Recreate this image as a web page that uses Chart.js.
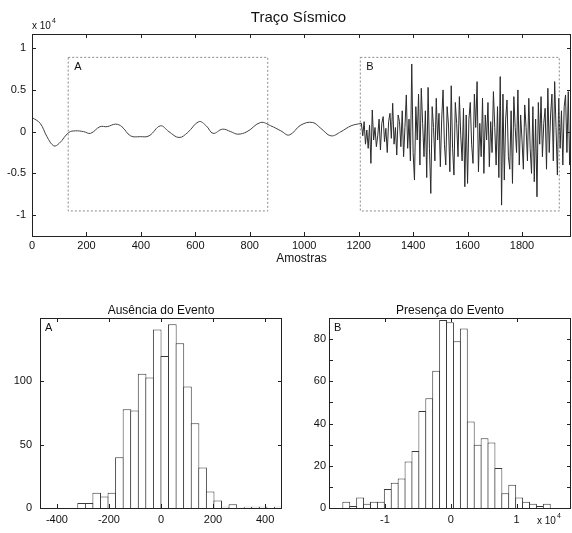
<!DOCTYPE html>
<html>
<head>
<meta charset="utf-8">
<script src="https://cdn.jsdelivr.net/npm/chart.js@4.4.1/dist/chart.umd.min.js"></script>
<style>
  html, body { margin: 0; padding: 0; background: #fff; }
  body { width: 572px; height: 533px; position: relative; overflow: hidden; }
  canvas { position: absolute; }
</style>
</head>
<body>
<canvas id="trace" width="572" height="270" style="left:0;top:0"></canvas>
<canvas id="histA" width="290" height="253" style="left:0;top:280px"></canvas>
<canvas id="histB" width="282" height="253" style="left:290px;top:280px"></canvas>
<script>
// ---- seismic trace (values in units of 1e4) ----
// quiet part
const quietX = [0, 30, 55, 80, 100, 135, 160, 190, 215, 250, 276, 307, 330, 362, 398, 430, 472, 503,
  540, 572, 613, 640, 665, 700, 730, 756, 790, 840, 877, 914, 945, 988, 1031, 1061, 1098, 1135, 1172, 1210];
const quietY = [0.17, 0.10, -0.06, -0.17, -0.14, -0.01, 0.01, 0.00, -0.02, 0.06, 0.06, 0.09, 0.06, -0.05, -0.06, -0.05, 0.07, 0.00,
  -0.07, -0.01, 0.12, 0.07, -0.02, 0.03, 0.00, -0.03, 0.00, 0.11, 0.07, 0.01, -0.04, 0.08, 0.11, 0.04, -0.05, 0.00, 0.07, 0.10];

// event part, one value every 5 samples from 1210
const eventStart = 1210;
const eventStep = 5;
const eventY = [
  0.10, -0.05, 0.12, -0.15, 0.02, -0.20, 0.08, -0.38, 0.26, -0.10,
  0.05, -0.18, -0.05, 0.15, -0.22, 0.10, 0.18, -0.12, 0.04, -0.25,
  0.12, 0.22, -0.08, 0.34, -0.15, 0.05, -0.28, 0.20, 0.12, -0.18,
  0.25, -0.30, 0.05, 0.44, -0.20, 0.15, -0.35, 0.81, -0.25, -0.58,
  0.30, -0.10, 0.45, -0.40, 0.52, 0.10, -0.30, 0.25, -0.55, 0.53,
  -0.20, -0.74, 0.30, 0.05, -0.35, 0.40, -0.10, 0.22, -0.42, 0.15,
  0.50, -0.15, -0.40, 0.30, 0.08, -0.48, 0.55, -0.20, -0.52, 0.35,
  0.10, -0.30, 0.42, -0.05, -0.35, 0.28, -0.66, 0.20, -0.62, 0.15,
  0.35, -0.15, -0.38, 0.45, 0.05, 0.60, -0.48, 0.10, -0.30, 0.40,
  -0.50, 0.20, -0.10, 0.35, -0.42, 0.12, -0.25, 0.48, 0.05, -0.40,
  0.30, -0.55, 0.66, -0.88, 0.45, -0.58, 0.15, 0.38, -0.30, -0.45,
  0.25, -0.62, 0.42, 0.05, -0.25, 0.50, -0.40, 0.20, -0.10, -0.45,
  0.32, 0.05, -0.35, 0.40, -0.20, -0.50, 0.30, -0.60, 0.15, -0.78,
  0.35, -0.15, 0.42, -0.30, 0.10, 0.28, -0.45, 0.52, -0.25, 0.20,
  0.45, -0.35, 0.60, 0.05, -0.52, 0.40, -0.20, 0.25, -0.40, 0.30,
  0.44, -0.25, 0.48, -0.40, 0.20
];

// windows A and B: [x0, x1, y0, y1]
const windowA = [133, 866, -0.95, 0.89];
const windowB = [1206, 1937, -0.95, 0.89];

const traceXTicks = [0, 200, 400, 600, 800, 1000, 1200, 1400, 1600, 1800];
const traceYTicks = [-1, -0.5, 0, 0.5, 1];

// ---- histogram A (no event) ----
const histAMin = -465, histAMax = 465;
const histACounts = [0, 0, 0, 0, 0, 4, 4, 12, 9, 12, 40, 78, 77, 106, 103, 141, 120, 145, 130, 96, 67, 32,
  13, 6, 1, 3, 0, 1, 1, 1, 0, 1];
const histAXTicks = [-400, -200, 0, 200, 400];
const histAYTicks = [0, 50, 100];

// ---- histogram B (event), x in units of 1e4 ----
const histBMin = -1.85, histBMax = 1.825;
const histBCounts = [0, 0, 3, 1, 5, 2, 3, 3, 9, 12, 14, 22, 27, 46, 52, 65, 89, 88, 79, 85, 41, 30, 33, 31,
  19, 7, 11, 5, 3, 2, 1, 2, 0, 0, 0];
const histBXTicks = [-1, 0, 1];
const histBYTicks = [0, 10, 20, 30, 40, 50, 60, 70, 80];

Chart.defaults.font.family = '"Liberation Sans", Arial, Helvetica, sans-serif';
Chart.defaults.color = '#111';
Chart.defaults.animation = false;

const FONT = '"Liberation Sans", Arial, Helvetica, sans-serif';

// box around plot area + inward tick marks on all four sides
const framePlugin = {
  id: 'frame',
  afterDatasetsDraw(chart, args, opts) {
    const { ctx, chartArea: a } = chart;
    const len = opts.len || 4;
    ctx.save();
    ctx.strokeStyle = '#222';
    ctx.lineWidth = 1;
    ctx.beginPath();
    chart.scales.x.ticks.forEach(t => {
      const px = Math.round(chart.scales.x.getPixelForValue(t.value)) + 0.5;
      ctx.moveTo(px, a.bottom); ctx.lineTo(px, a.bottom - len);
      ctx.moveTo(px, a.top); ctx.lineTo(px, a.top + len);
    });
    chart.scales.y.ticks.forEach(t => {
      const py = Math.round(chart.scales.y.getPixelForValue(t.value)) + 0.5;
      ctx.moveTo(a.left, py); ctx.lineTo(a.left + len, py);
      ctx.moveTo(a.right, py); ctx.lineTo(a.right - len, py);
    });
    ctx.stroke();
    ctx.strokeRect(Math.round(a.left) + 0.5, Math.round(a.top) + 0.5,
      Math.round(a.right - a.left) - 1, Math.round(a.bottom - a.top));
    ctx.restore();
  }
};

// free text: titles, axis label, exponent, window letters
const textPlugin = {
  id: 'texts',
  afterDraw(chart, args, opts) {
    const ctx = chart.ctx;
    const a = chart.chartArea;
    ctx.save();
    ctx.fillStyle = '#111';
    ctx.textBaseline = 'middle';
    (opts.items || []).forEach(it => {
      const p = typeof it.pos === 'function' ? it.pos(chart, a) : it.pos;
      ctx.font = (it.size || 11) + 'px ' + FONT;
      ctx.textAlign = it.align || 'left';
      ctx.fillText(it.text, p[0], p[1]);
      if (it.sup) {
        const w = ctx.measureText(it.text).width;
        ctx.font = Math.round((it.size || 11) * 0.7) + 'px ' + FONT;
        ctx.textAlign = 'left';
        const x0 = it.align === 'center' ? p[0] + w / 2 : (it.align === 'right' ? p[0] : p[0] + w);
        ctx.fillText(it.sup, x0 + 1, p[1] - 5);
      }
    });
    ctx.restore();
  }
};

function axis(ticksArr, min, max, size, pad, labelFilter) {
  return {
    type: 'linear',
    min: min, max: max,
    offset: false,
    grid: { display: false, drawTicks: false, tickLength: 0, offset: false },
    border: { display: false },
    afterBuildTicks: s => { s.ticks = ticksArr.map(v => ({ value: v })); },
    afterFit: s => {
      if (s.isHorizontal()) s.height = size; else s.width = size;
    },
    ticks: {
      padding: pad,
      autoSkip: false,
      maxRotation: 0,
      font: { size: 11 },
      color: '#111',
      callback: v => (labelFilter && !labelFilter(v)) ? '' : String(v)
    }
  };
}

function windowPath(w) {
  return [{ x: w[0], y: w[3] }, { x: w[1], y: w[3] }, { x: w[1], y: w[2] }, { x: w[0], y: w[2] }, { x: w[0], y: w[3] }];
}

// ---- top: trace ----
const quietData = quietX.map((x, i) => ({ x: x, y: quietY[i] }));
const eventData = eventY.map((y, i) => ({ x: eventStart + i * eventStep, y: y }));

new Chart(document.getElementById('trace'), {
  type: 'line',
  data: {
    datasets: [
      { data: windowPath(windowA), borderColor: '#8a8a8a', borderWidth: 1, borderDash: [2, 2], pointRadius: 0, tension: 0 },
      { data: windowPath(windowB), borderColor: '#8a8a8a', borderWidth: 1, borderDash: [2, 2], pointRadius: 0, tension: 0 },
      { data: quietData, borderColor: '#444', borderWidth: 1, pointRadius: 0, tension: 0.4 },
      { data: eventData, borderColor: '#2a2a2a', borderWidth: 1, pointRadius: 0, tension: 0 }
    ]
  },
  options: {
    responsive: false,
    layout: { padding: { top: 34, right: 1, left: 0, bottom: 0 } },
    scales: {
      x: axis(traceXTicks, 0, 1980, 34, 3),
      y: axis(traceYTicks, -1.25, 1.17, 32, 6)
    },
    plugins: {
      legend: { display: false },
      tooltip: { enabled: false },
      frame: { len: 4 },
      texts: {
        items: [
          { text: 'Traço Sísmico', size: 15, align: 'center', pos: (c, a) => [(a.left + a.right) / 2 - 3, 18] },
          { text: 'Amostras', size: 12, align: 'center', pos: (c, a) => [(a.left + a.right) / 2, 259] },
          { text: 'x 10', sup: '4', size: 10, pos: (c, a) => [a.left, 26] },
          { text: 'A', size: 11, pos: c => [c.scales.x.getPixelForValue(windowA[0]) + 6, c.scales.y.getPixelForValue(windowA[3]) + 10] },
          { text: 'B', size: 11, pos: c => [c.scales.x.getPixelForValue(windowB[0]) + 6, c.scales.y.getPixelForValue(windowB[3]) + 10] }
        ]
      }
    }
  },
  plugins: [framePlugin, textPlugin]
});

// ---- histograms ----
function histData(min, max, counts) {
  const w = (max - min) / counts.length;
  return counts.map((c, i) => ({ x: min + w * (i + 0.5), y: c }));
}

function histChart(id, min, max, counts, xTicks, yTicks, yMax, yWidth, yPad, padRight, title, letter, extra, yFilter) {
  const items = [
    { text: title, size: 12, align: 'center', pos: (c, a) => [(a.left + a.right) / 2, 31] },
    { text: letter, size: 11, pos: (c, a) => [a.left + 5, a.top + 10] }
  ].concat(extra);
  return new Chart(document.getElementById(id), {
    type: 'bar',
    data: {
      datasets: [{
        data: histData(min, max, counts),
        backgroundColor: '#fff',
        borderColor: '#3a3a3a',
        borderWidth: 1,
        barPercentage: 1.14,
        categoryPercentage: 1
      }]
    },
    options: {
      responsive: false,
      layout: { padding: { top: 38, right: padRight, left: 0, bottom: 0 } },
      scales: {
        x: axis(xTicks, min, max, 25, 5),
        y: axis(yTicks, 0, yMax, yWidth, yPad, yFilter)
      },
      plugins: {
        legend: { display: false },
        tooltip: { enabled: false },
        frame: { len: 4 },
        texts: { items: items }
      }
    },
    plugins: [framePlugin, textPlugin]
  });
}

histChart('histA', histAMin, histAMax, histACounts, histAXTicks, histAYTicks, 150, 40, 8, 8,
  'Ausência do Evento', 'A', []);
histChart('histB', histBMin, histBMax, histBCounts, histBXTicks, histBYTicks, 90, 39, 3, 1,
  'Presença do Evento', 'B',
  [{ text: 'x 10', sup: '4', size: 10, pos: (c, a) => [a.right - 34, 241] }],
  v => v % 20 === 0);
</script>
</body>
</html>
